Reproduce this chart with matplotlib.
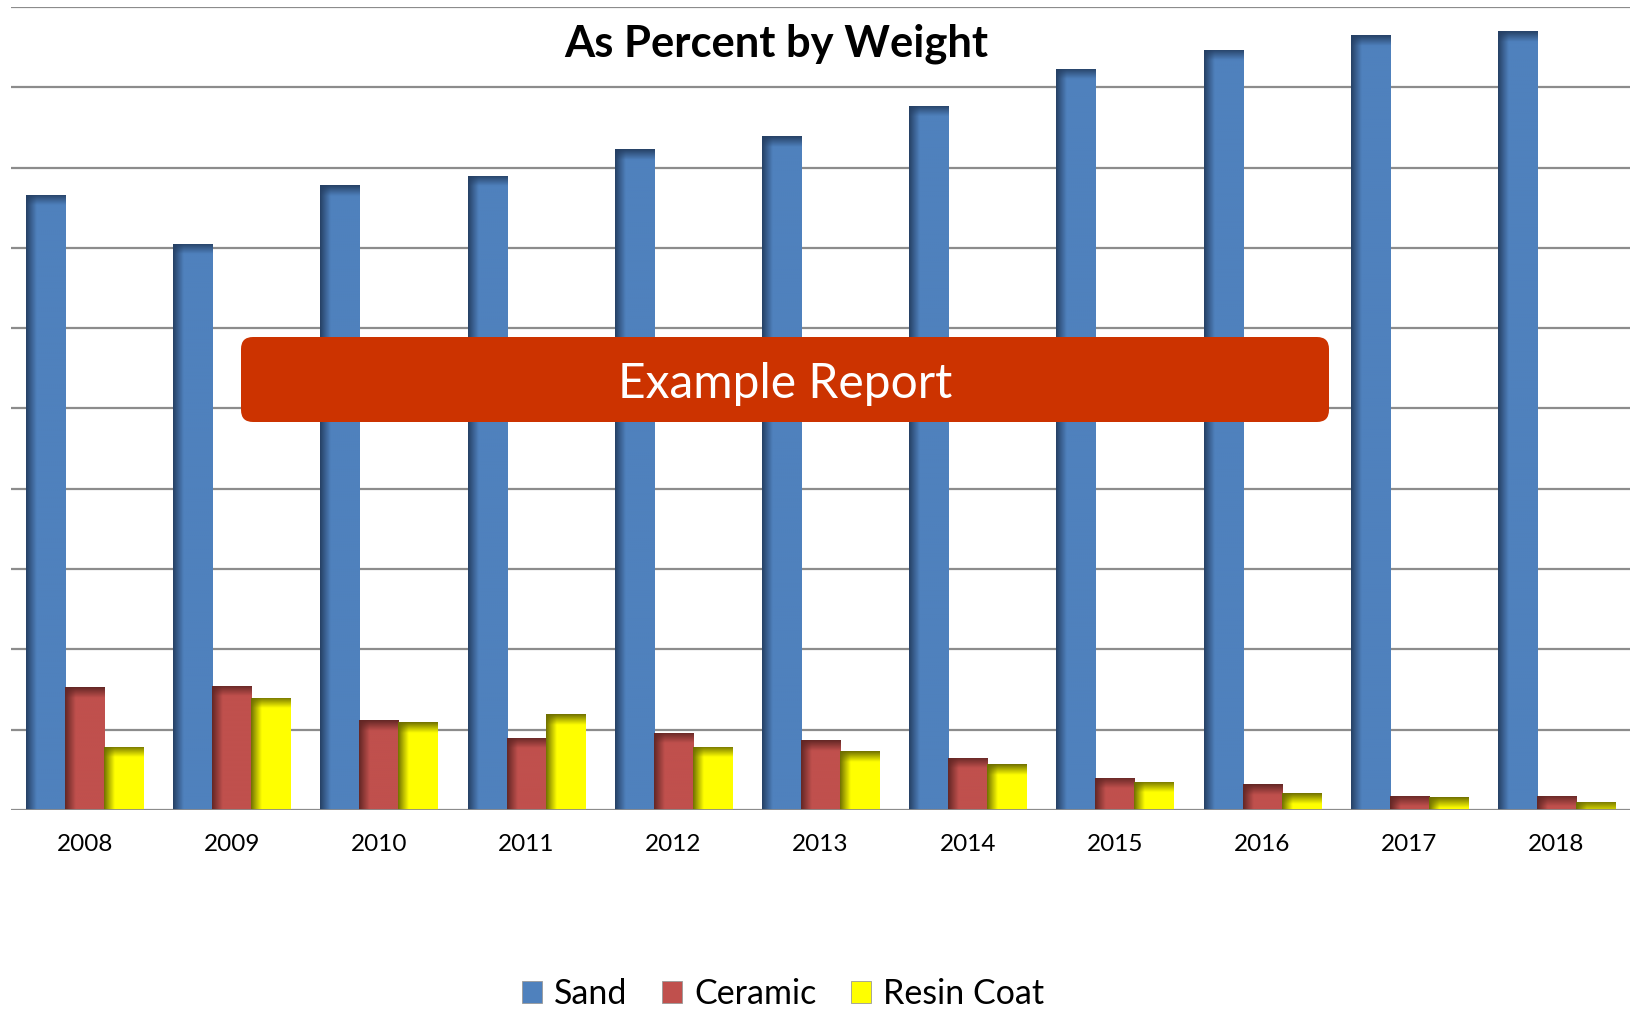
import numpy as np
import matplotlib
matplotlib.use("Agg")
from matplotlib import pyplot as plt
from matplotlib.patches import FancyBboxPatch, Rectangle
from matplotlib.transforms import IdentityTransform
from matplotlib.colors import to_rgb

plt.rcParams['font.family'] = ['Lato', 'DejaVu Sans']

years = ['2008', '2009', '2010', '2011', '2012', '2013',
         '2014', '2015', '2016', '2017', '2018']
sand = [76.6, 70.5, 77.8, 79.0, 82.3, 83.9, 87.7, 92.3, 94.7, 96.5, 97.0]
ceramic = [15.3, 15.5, 11.2, 9.0, 9.6, 8.7, 6.5, 4.0, 3.2, 1.8, 1.8]
resin = [7.9, 14.0, 10.9, 11.9, 7.9, 7.3, 5.7, 3.5, 2.1, 1.6, 1.0]

series = [('Sand', sand, '#4f81bd', '#253f63'),
          ('Ceramic', ceramic, '#c0504d', '#622624'),
          ('Resin Coat', resin, '#ffff00', '#6e6e00')]

W, H = 1633, 1009
fig = plt.figure(figsize=(W / 100, H / 100), dpi=100)
ax = fig.add_axes([11 / W, 1 - 810 / H, 1619 / W, 803 / H])


def shade_bar(ax, patch, base, dark):
    # dark band on the left and top of each bar, like the office 3d-ish fill
    x0, y0 = patch.get_x(), patch.get_y()
    w, h = patch.get_width(), patch.get_height()
    nx, ny = 60, 400
    xs = (np.arange(nx) + 0.5) / nx
    ys = (np.arange(ny) + 0.5) / ny * h
    fl = np.clip(xs / 0.27, 0, 1)
    ft = np.clip((h - ys) / 1.35, 0, 1)
    t = ft[:, None] * fl[None, :]
    b, d = np.array(to_rgb(base)), np.array(to_rgb(dark))
    img = d + (b - d) * t[..., None]
    im = ax.imshow(img, extent=(x0, x0 + w, y0, y0 + h), origin='lower',
                   aspect='auto', interpolation='bilinear', zorder=3)
    im.set_clip_path(patch)


x = np.arange(len(years))
bw = 0.265
handles = []
for k, (name, vals, base, dark) in enumerate(series):
    bars = ax.bar(x + (k - 1) * bw, vals, bw, color=base,
                  edgecolor='#e6e6e6', linewidth=0.6, zorder=2)
    for p in bars:
        shade_bar(ax, p, base, dark)
    handles.append(Rectangle((0, 0), 1, 1, facecolor=base,
                             edgecolor='#999999', linewidth=0.6))

ax.set_xlim(-0.5, len(years) - 0.5)
ax.set_ylim(0, 100)
ax.set_yticks(np.arange(0, 101, 10))
ax.yaxis.grid(True, color='#8c8c8c', linewidth=1.6)
ax.set_axisbelow(True)
ax.set_yticklabels([])
ax.tick_params(length=0)
ax.set_xticks(x)
ax.set_xticklabels(years, fontsize=17.5)
ax.tick_params(axis='x', pad=17)
for s in ax.spines.values():
    s.set_visible(False)
ax.axhline(0, color='#8c8c8c', linewidth=2, zorder=4)

fig.text(776 / W, 1 - 44 / H, 'As Percent by Weight', fontsize=31.3,
         fontweight='bold', ha='center', va='center')

banner = FancyBboxPatch((241, H - 422), 1088, 85,
                        boxstyle='round,pad=0,rounding_size=12',
                        facecolor='#cc3300', edgecolor='none',
                        transform=IdentityTransform(), zorder=10)
fig.add_artist(banner)
fig.text(785 / W, 1 - 384 / H, 'Example Report', fontsize=34.5, color='white',
         ha='center', va='center', zorder=11)

fig.legend(handles, [s[0] for s in series], loc='center',
           bbox_to_anchor=(783 / W, 1 - 994 / H), ncol=3, frameon=False,
           fontsize=24.5, handlelength=0.6, handleheight=0.6,
           handletextpad=0.35, columnspacing=1.0)

fig.savefig('out.png', dpi=100)
